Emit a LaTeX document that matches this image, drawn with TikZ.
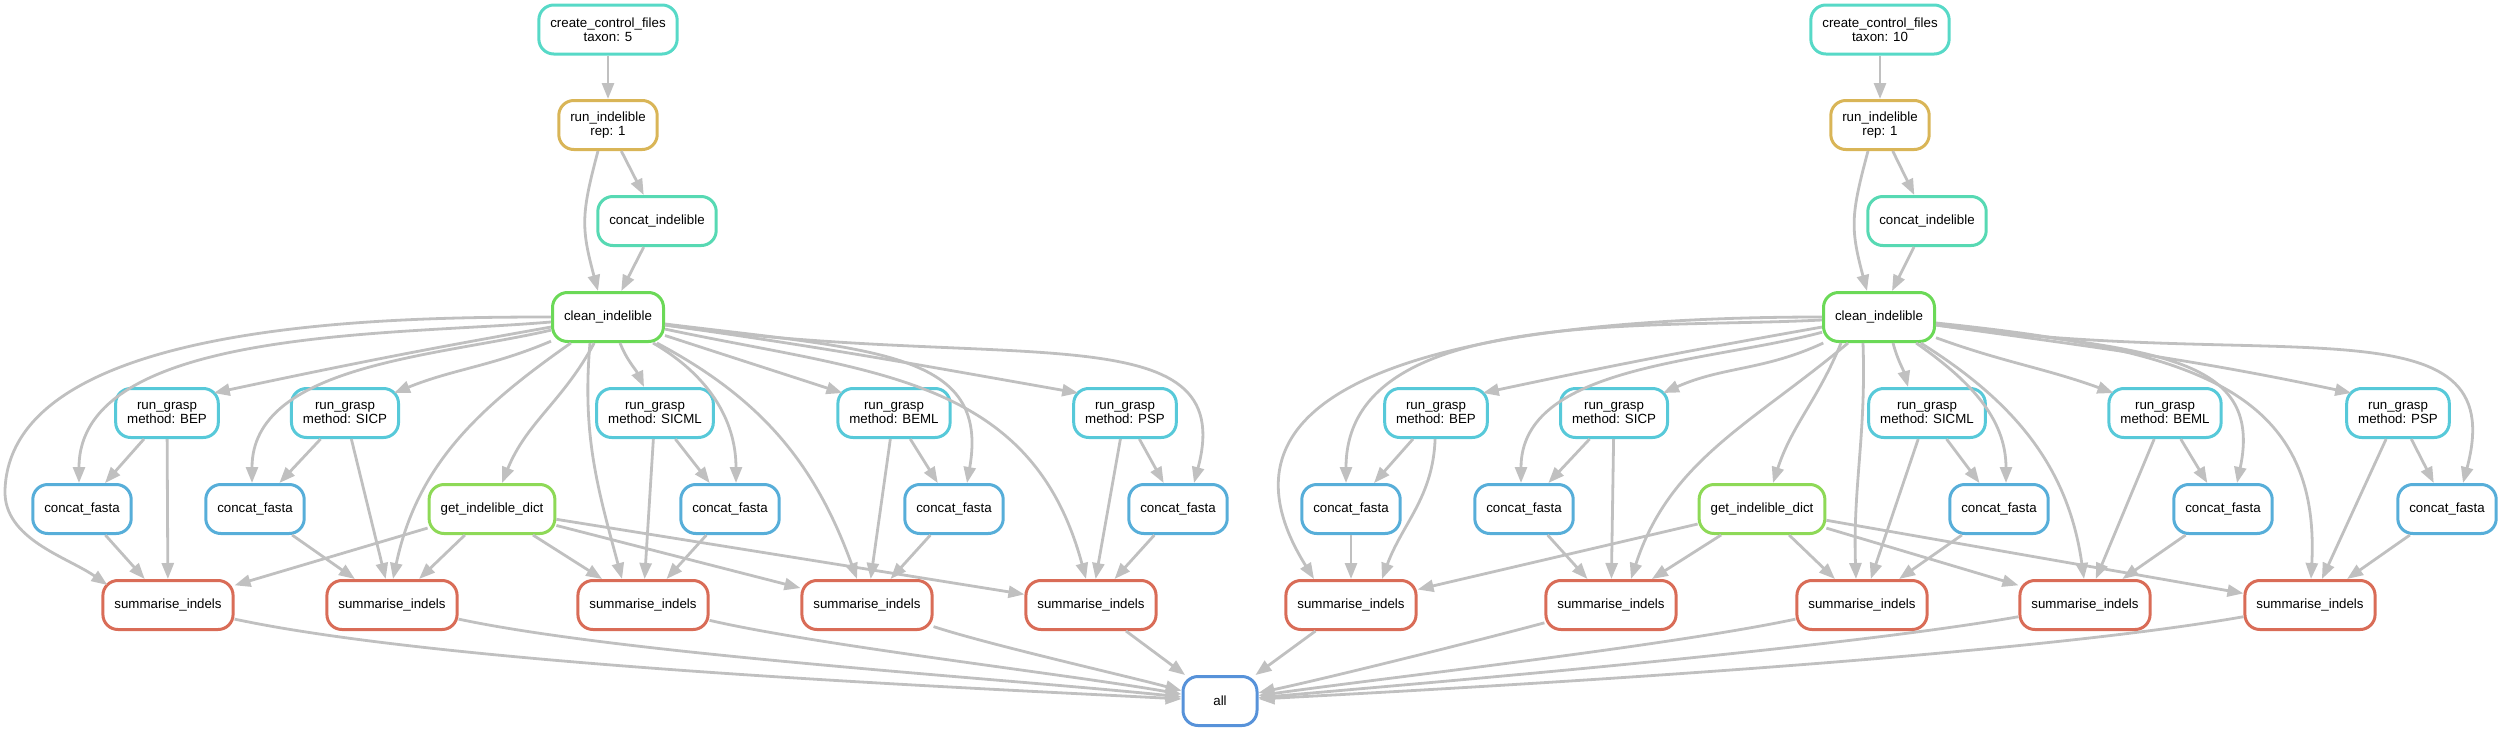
\documentclass[tikz,border=0pt]{standalone}
\usepackage{fontspec}
\setmainfont{Liberation Sans}
\usepackage{tikz}
\usetikzlibrary{arrows.meta}

\definecolor{turquesa}{HTML}{57D9C7}
\definecolor{dorado}{HTML}{D9B557}
\definecolor{menta}{HTML}{57D9B3}
\definecolor{verde}{HTML}{6BD957}
\definecolor{verdeclaro}{HTML}{8ED957}
\definecolor{cian}{HTML}{57C9D9}
\definecolor{azulclaro}{HTML}{57AED9}
\definecolor{rojo}{HTML}{D96C57}
\definecolor{azul}{HTML}{5792D9}
\definecolor{gris}{HTML}{C0C0C0}

\begin{document}
\begin{tikzpicture}[x=1pt,y=1pt,
    regla/.style={draw=#1, line width=3pt, rounded corners=15pt, fill=white,
        minimum height=49pt, minimum width=74pt, inner xsep=11.5pt, inner ysep=2pt,
        align=center, font=\fontsize{13.3}{14}\selectfont},
    flecha/.style={draw=gris, line width=2.8pt, -{Triangle[length=16pt,width=12pt]}}]
        \useasboundingbox (0,0) rectangle (2501,-731);

        % Grupo taxon 5
        \node[regla=turquesa] (ccfA) at (608,-29.5) {create\_control\_files\\taxon: 5};
        \node[regla=dorado] (riA) at (608,-125) {run\_indelible\\rep: 1};
        \node[regla=menta] (ciA) at (657,-221) {concat\_indelible};
        \node[regla=verde] (clA) at (608,-317) {clean\_indelible};
        \node[regla=cian] (rgA1) at (167,-413) {run\_grasp\\method: BEP};
        \node[regla=cian] (rgA2) at (345,-413) {run\_grasp\\method: SICP};
        \node[regla=cian] (rgA3) at (655,-413) {run\_grasp\\method: SICML};
        \node[regla=cian] (rgA4) at (894,-413) {run\_grasp\\method: BEML};
        \node[regla=cian] (rgA5) at (1125,-413) {run\_grasp\\method: PSP};
        \node[regla=azulclaro] (cfA1) at (82,-509) {concat\_fasta};
        \node[regla=azulclaro] (cfA2) at (255,-509) {concat\_fasta};
        \node[regla=verdeclaro] (gidA) at (492,-509) {get\_indelible\_dict};
        \node[regla=azulclaro] (cfA3) at (730,-509) {concat\_fasta};
        \node[regla=azulclaro] (cfA4) at (954,-509) {concat\_fasta};
        \node[regla=azulclaro] (cfA5) at (1178,-509) {concat\_fasta};
        \foreach \i/\x in {1/168,2/392,3/643,4/867,5/1091}
            \node[regla=rojo] (siA\i) at (\x,-605) {summarise\_indels};
        \coordinate (rodeoA) at (5,-490);

        % Grupo taxon 10
        \node[regla=turquesa] (ccfB) at (1880,-29.5) {create\_control\_files\\taxon: 10};
        \node[regla=dorado] (riB) at (1880,-125) {run\_indelible\\rep: 1};
        \node[regla=menta] (ciB) at (1927,-221) {concat\_indelible};
        \node[regla=verde] (clB) at (1879,-317) {clean\_indelible};
        \node[regla=cian] (rgB1) at (1436,-413) {run\_grasp\\method: BEP};
        \node[regla=cian] (rgB2) at (1614,-413) {run\_grasp\\method: SICP};
        \node[regla=cian] (rgB3) at (1927,-413) {run\_grasp\\method: SICML};
        \node[regla=cian] (rgB4) at (2165,-413) {run\_grasp\\method: BEML};
        \node[regla=cian] (rgB5) at (2398,-413) {run\_grasp\\method: PSP};
        \node[regla=azulclaro] (cfB1) at (1351,-509) {concat\_fasta};
        \node[regla=azulclaro] (cfB2) at (1524,-509) {concat\_fasta};
        \node[regla=verdeclaro] (gidB) at (1762,-509) {get\_indelible\_dict};
        \node[regla=azulclaro] (cfB3) at (1999,-509) {concat\_fasta};
        \node[regla=azulclaro] (cfB4) at (2223,-509) {concat\_fasta};
        \node[regla=azulclaro] (cfB5) at (2447,-509) {concat\_fasta};
        \foreach \i/\x in {1/1351,2/1611,3/1862,4/2085,5/2310}
            \node[regla=rojo] (siB\i) at (\x,-605) {summarise\_indels};

        \node[regla=azul] (all) at (1220,-701) {all};

        % Aristas superiores
        \foreach \g/\d in {A/-10,B/-12} {
            \draw[flecha] (ccf\g) -- (ri\g);
            \draw[flecha] (ri\g) -- (ci\g);
            \draw[flecha] ([xshift=\d pt]ri\g.south) to[out=-105,in=105,looseness=1.2] ([xshift=\d pt]cl\g.north);
            \draw[flecha] (ci\g) -- (cl\g);
        }

        % clean_indelible (taxon 5)
        \draw[flecha] (clA) to[out=180,in=88,looseness=0.75] (rodeoA)
            to[out=-92,in=145,looseness=0.9] ([shift={(6,-6)}]siA1.north west);
        \draw[flecha] (clA) to[out=185,in=90,looseness=0.8] ([xshift=-3pt]cfA1.north);
        \draw[flecha] (clA) to[out=190,in=12] ([shift={(-6,-6)}]rgA1.north east);
        \draw[flecha] (clA) to[out=193,in=90,looseness=0.9] ([xshift=-3pt]cfA2.north);
        \draw[flecha] (clA) to[out=203,in=22] ([shift={(-6,-6)}]rgA2.north east);
        \draw[flecha] (clA) to[out=215,in=78] ([xshift=1pt]siA2.north);
        \draw[flecha] (clA) to[out=242,in=68] ([xshift=10pt]gidA.north);
        \draw[flecha] ([xshift=-18pt]clA.south) to[out=-95,in=105] ([xshift=-21pt]siA3.north);
        \draw[flecha] ([xshift=12pt]clA.south) to[out=-68,in=115] ([xshift=-11pt]rgA3.north);
        \draw[flecha] (clA) to[out=-30,in=90] ([xshift=6pt]cfA3.north);
        \draw[flecha] (clA) to[out=-18,in=162] ([shift={(6,-6)}]rgA4.north west);
        \draw[flecha] (clA) to[out=-28,in=110] ([xshift=-10pt]siA4.north);
        \draw[flecha] (clA) to[out=-7,in=80,out looseness=1.6,in looseness=1] ([xshift=13pt]cfA4.north);
        \draw[flecha] (clA) to[out=-8,in=170] ([shift={(6,-6)}]rgA5.north west);
        \draw[flecha] (clA) to[out=-12,in=105,looseness=1.1] ([xshift=-5pt]siA5.north);
        \draw[flecha] (clA) to[out=-8,in=75,out looseness=1.6,in looseness=0.83] ([xshift=16pt]cfA5.north);

        % clean_indelible (taxon 10)
        \draw[flecha] (clB) to[out=180,in=122,looseness=1.2] ([xshift=-37pt]siB1.north);
        \draw[flecha] (clB) to[out=183,in=90,looseness=0.9] ([xshift=-5pt]cfB1.north);
        \draw[flecha] (clB) to[out=190,in=12] ([shift={(-6,-6)}]rgB1.north east);
        \draw[flecha] (clB) to[out=195,in=90,looseness=0.9] ([xshift=-3pt]cfB2.north);
        \draw[flecha] (clB) to[out=205,in=24] ([shift={(-6,-6)}]rgB2.north east);
        \draw[flecha] (clB) to[out=220,in=72] ([xshift=20pt]siB2.north);
        \draw[flecha] ([xshift=-38pt]clB.south) to[out=-112,in=72] ([xshift=11pt]gidB.north);
        \draw[flecha] ([xshift=-16pt]clB.south) to[out=-88,in=92] ([xshift=-6pt]siB3.north);
        \draw[flecha] ([xshift=14pt]clB.south) to[out=-75,in=105] ([xshift=-19pt]rgB3.north);
        \draw[flecha] (clB) to[out=-35,in=90] ([xshift=7pt]cfB3.north);
        \draw[flecha] (clB) to[out=-32,in=98] ([xshift=-1pt]siB4.north);
        \draw[flecha] (clB) to[out=-20,in=160] ([shift={(6,-6)}]rgB4.north west);
        \draw[flecha] (clB) to[out=-7,in=78,out looseness=1.6,in looseness=1] ([xshift=14pt]cfB4.north);
        \draw[flecha] (clB) to[out=-6,in=87,out looseness=1.4,in looseness=1.1] ([xshift=1pt]siB5.north);
        \draw[flecha] (clB) to[out=-8,in=168] ([shift={(6,-6)}]rgB5.north west);
        \draw[flecha] (clB) to[out=-8,in=75,out looseness=1.6,in looseness=0.9] ([xshift=16pt]cfB5.north);

        % run_grasp, concat_fasta y get_indelible_dict
        \foreach \g in {A,B} {
            \foreach \i in {1,...,5} {
                \draw[flecha] (rg\g\i) -- (cf\g\i);
                \draw[flecha] (cf\g\i) -- (si\g\i);
                \draw[flecha] (gid\g) -- (si\g\i);
            }
        }
        \foreach \i in {1,...,5}
            \draw[flecha] (rgA\i) -- (siA\i);
        \draw[flecha] (rgB1) to[out=-92,in=70] ([xshift=31pt]siB1.north);
        \foreach \i in {2,...,5}
            \draw[flecha] (rgB\i) -- (siB\i);

        % summarise_indels -> all
        \foreach \i/\o/\n in {1/-12/177,2/-12/174,3/-13/170,4/-18/165}
            \draw[flecha] (siA\i) to[out=\o,in=\n,looseness=0.6] (all);
        \draw[flecha] (siA5) -- (all);
        \draw[flecha] (siB1) -- (all);
        \foreach \i/\o/\n in {2/195/12,3/192/8,4/190/5,5/190/3}
            \draw[flecha] (siB\i) to[out=\o,in=\n,looseness=0.6] (all);

    \end{tikzpicture}
\end{document}
